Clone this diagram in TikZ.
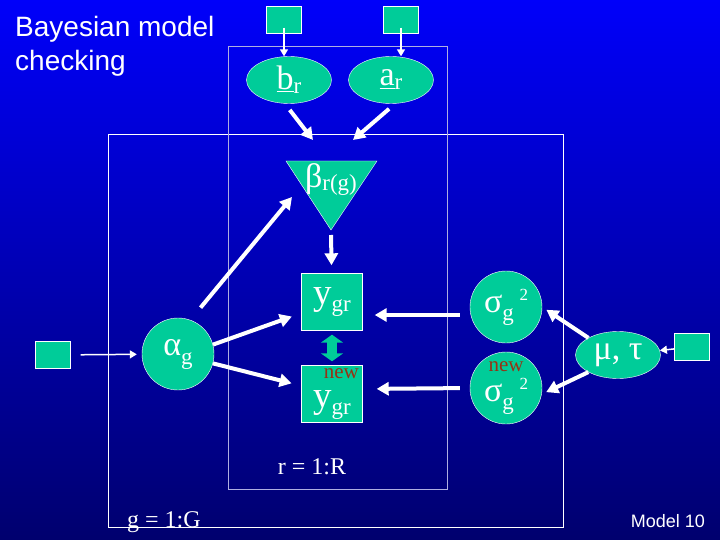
\documentclass[tikz,border=0pt]{standalone}
\usepackage{fontspec}
\setmainfont{Liberation Serif}
\newfontfamily\arialfont{Liberation Sans}
\usetikzlibrary{shapes.geometric,arrows.meta,positioning}
\definecolor{nodeteal}{RGB}{0,204,153}
\definecolor{bgtop}{RGB}{0,0,250}
\definecolor{bgbottom}{RGB}{0,0,110}
\definecolor{newred}{RGB}{150,50,20}
\definecolor{rplate}{RGB}{175,175,225}
\newcommand{\lowtxt}[2][5pt]{\raisebox{-#1}{\fontsize{23}{23}\selectfont #2}}
\newcommand{\hightxt}[1]{\raisebox{12pt}{\fontsize{17}{17}\selectfont #1}}
\newcommand{\newtxt}{{\color{newred}\fontsize{21}{21}\selectfont new}}

\begin{document}
\begin{tikzpicture}[x=1pt,y=-1pt,text=white,font=\fontsize{34}{24}\selectfont,
  sq/.style={draw=white,thin,fill=nodeteal,minimum width=35pt,minimum height=27pt,inner sep=0pt},
  ell/.style={ellipse,draw=white,thin,fill=nodeteal,minimum width=85pt,minimum height=47pt,inner sep=0pt},
  circ/.style={circle,draw=white,thin,fill=nodeteal,minimum size=72pt,inner sep=0pt},
  ysq/.style={draw=white,thin,fill=nodeteal,minimum width=61pt,minimum height=57pt,inner sep=0pt,font=\fontsize{37}{24}\selectfont},
  tri/.style={draw=white,thin,fill=nodeteal},
  lbl/.style={inner sep=0pt},
  arr/.style={-{Triangle[length=12pt,width=13pt]},line width=4pt,white},
  tarr/.style={-{Triangle[length=7pt,width=8pt]},line width=1.5pt,white},
  dbl/.style={{Triangle[length=8pt,width=22pt]}-{Triangle[length=8pt,width=22pt]},line width=10pt,nodeteal},
  plate/.style={draw=white,line width=1pt}]
  \shade[top color=bgtop,bottom color=bgbottom] (0,0) rectangle (720,540);
  \path[use as bounding box] (0,0) rectangle (720,540);
  % plates
  \draw[plate] (108,135) rectangle (563,527);
  \draw[plate,draw=rplate] (228,47) rectangle (447,489);
  \node[lbl,anchor=north west,align=left,font=\arialfont\fontsize{28}{34}\selectfont] (title) at (15,16) {Bayesian model\\checking};
  % nodes
  \node[sq] (bsq) at (284,20) {};
  \node[sq] (asq) at (401,20) {};
  \node[ell] (br) at (289,80) {\underline{b}\lowtxt[4pt]{r}};
  \node[ell] (ar) at (391,80) {\underline{a}\lowtxt[4pt]{r}};
  \draw[tri] (286,161) -- (377,161) -- (331,230) coordinate (betatip) -- cycle;
  \node[lbl] (beta) at (331,180) {β\lowtxt[3pt]{r(g)}};
  \coordinate (betain1) at (313,140);
  \coordinate (betain2) at (353,140);
  \coordinate (betaside) at (292,197);
  \node[sq] (alphasq) at (53,355) {};
  \node[circ] (alpha) at (178,354) {α\lowtxt[9pt]{g}};
  \node[ysq] (y) at (332,302) {y\lowtxt[7pt]{gr}};
  \node[ysq,align=right] (ynew) at (332,394) {\newtxt\hspace*{-8pt}\\[5pt]y\lowtxt[7pt]{gr}};
  \node[circ] (sig) at (506,307) {σ\lowtxt[8pt]{g}\,\hightxt{2}};
  \node[circ,align=center] (signew) at (506,388) {\newtxt\\[6pt]σ\lowtxt[8pt]{g}\,\hightxt{2}};
  \node[ell] (mt) at (618,355) {μ, τ};
  \node[sq] (mtsq) at (692,347) {};
  \node[lbl,font=\fontsize{24}{24}\selectfont] (rlab) at (312,467) {r = 1:R};
  \node[lbl,anchor=base west,font=\fontsize{24}{24}\selectfont] (glab) at (127,527) {g = 1:G};
  \node[lbl,anchor=base east,font=\arialfont\fontsize{18}{18}\selectfont] (model) at (705,527) {Model 10};
  % connectors
  \draw[tarr,shorten <=-6pt](bsq.south)--(bsq.south |- br.north);\draw[tarr,shorten <=-6pt](asq.south)--(asq.south |- ar.north);
  \draw[arr,shorten <=8pt](br.-100)--(betain1);\draw[arr,shorten <=8pt](ar.-80)--(betain2);
  \draw[arr,shorten <=5pt,shorten >=8pt](betatip)--(y);
  \draw[arr,shorten <=16pt](alpha.70)--(betaside);
  \draw[tarr,shorten <=10pt,shorten >=5pt](alphasq)--(alpha);
  \draw[arr,shorten >=10pt](alpha.15)--(y.200);\draw[arr,shorten >=10pt](alpha.-15)--(ynew.165);
  \draw[dbl,shorten <=4pt,shorten >=4pt](y)--(ynew);
  \draw[arr,shorten <=10pt,shorten >=12pt]([yshift=-8pt]sig.west)--([yshift=-13pt]y.east);
  \draw[arr,shorten <=10pt,shorten >=14pt](signew.west)--([yshift=5pt]ynew.east);
  \draw[arr,shorten >=5pt](mt.150)--(sig.east);\draw[arr,shorten >=5pt](mt.-150)--(signew.-10);
  \draw[tarr](mtsq)--(mt);
\end{tikzpicture}
\end{document}
